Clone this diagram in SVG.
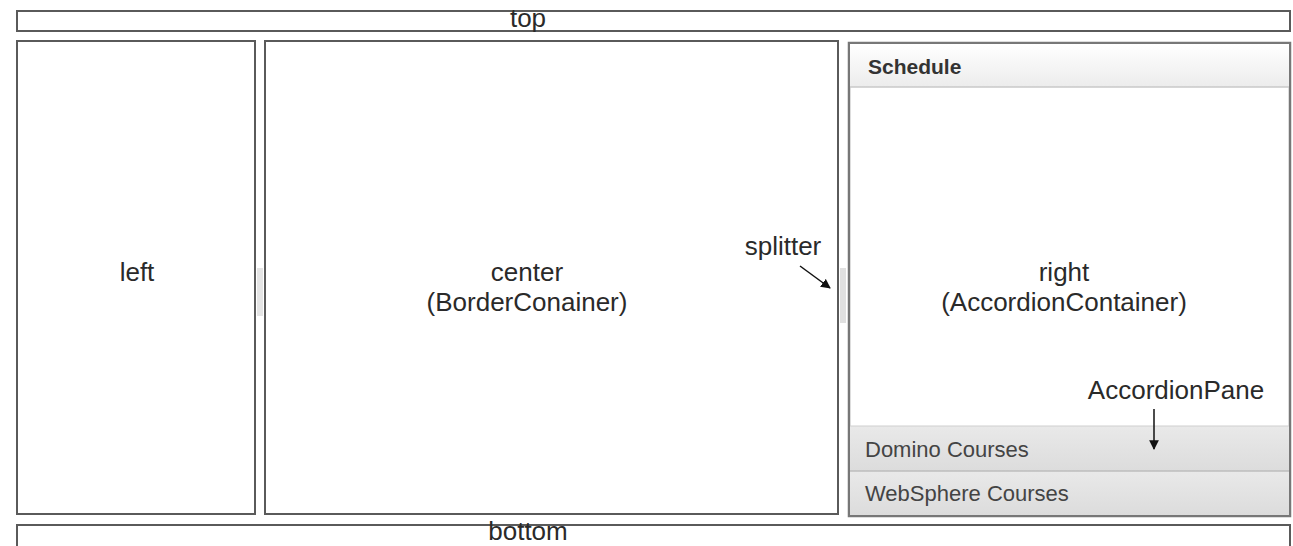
<svg xmlns="http://www.w3.org/2000/svg" width="1293" height="546" viewBox="0 0 1293 546">
<style>
.box{fill:#fff;stroke:#5a5a5a;stroke-width:2}
.lbl{font-family:"Liberation Sans",Arial,sans-serif;font-size:26px;fill:#2a2a2a;text-anchor:middle}
.pane{font-family:"Liberation Sans",Arial,sans-serif;font-size:22px;fill:#444}
.conn{stroke:#111;stroke-width:1.5;fill:none}
</style>
<defs>
<linearGradient id="hdr" x1="0" y1="0" x2="0" y2="1">
<stop offset="0" stop-color="#ffffff"/>
<stop offset="1" stop-color="#ececec"/>
</linearGradient>
<linearGradient id="band" x1="0" y1="0" x2="0" y2="1">
<stop offset="0" stop-color="#e9e9e9"/>
<stop offset="1" stop-color="#dcdcdc"/>
</linearGradient>
<marker id="ah" viewBox="0 0 10 10" refX="9" refY="5" markerWidth="6.5" markerHeight="6.5" orient="auto">
<path d="M0,0 L10,5 L0,10 z" fill="#111"/>
</marker>
</defs>
<rect width="1293" height="546" fill="#fff"/>

<g id="top">
<rect class="box" x="17" y="11" width="1273" height="20"/>
<text class="lbl" x="528" y="27" font-size="25">top</text>
</g>

<g id="left">
<rect class="box" x="17" y="41" width="238" height="473"/>
<text class="lbl" x="137" y="281">left</text>
</g>

<g id="splitter-left">
<rect x="257" y="268" width="6" height="48" fill="#e4e4e4"/>
</g>

<g id="center">
<rect class="box" x="265" y="41" width="573" height="473"/>
<text class="lbl" x="527" y="281">center</text>
<text class="lbl" x="527" y="311">(BorderConainer)</text>
</g>

<g id="splitter-right">
<rect x="840" y="268" width="6" height="55" fill="#e0e0e0"/>
</g>

<g id="right">
<rect x="849" y="43" width="441" height="473" fill="#fff" stroke="#777" stroke-width="2.5"/>
<rect x="850" y="44" width="439" height="43" fill="url(#hdr)"/>
<line x1="850" y1="87" x2="1289" y2="87" stroke="#c8c8c8" stroke-width="1.5"/>
<text x="868" y="74" font-family="'Liberation Sans',Arial,sans-serif" font-size="21" font-weight="bold" fill="#333">Schedule</text>
<text class="lbl" x="1064" y="281">right</text>
<text class="lbl" x="1064" y="311">(AccordionContainer)</text>
</g>

<g id="domino-pane">
<rect x="850" y="426" width="439" height="45" fill="url(#band)"/>
<line x1="850" y1="426" x2="1289" y2="426" stroke="#cfcfcf" stroke-width="1"/>
<text class="pane" x="865" y="457">Domino Courses</text>
</g>

<g id="websphere-pane">
<rect x="850" y="471" width="439" height="44" fill="url(#band)"/>
<line x1="850" y1="471" x2="1289" y2="471" stroke="#bdbdbd" stroke-width="1.5"/>
<text class="pane" x="865" y="501">WebSphere Courses</text>
</g>

<g id="bottom">
<rect class="box" x="17" y="525" width="1273" height="30"/>
<text class="lbl" x="528" y="540" font-size="24">bottom</text>
</g>

<g id="splitter-label">
<text class="lbl" x="783" y="255">splitter</text>
</g>

<g id="accordionpane-label">
<text class="lbl" x="1176" y="399">AccordionPane</text>
</g>

<g id="connectors">
<line class="conn" x1="800" y1="266" x2="830" y2="288" marker-end="url(#ah)"/>
<line class="conn" x1="1154" y1="409" x2="1154" y2="449" marker-end="url(#ah)"/>
</g>
</svg>
